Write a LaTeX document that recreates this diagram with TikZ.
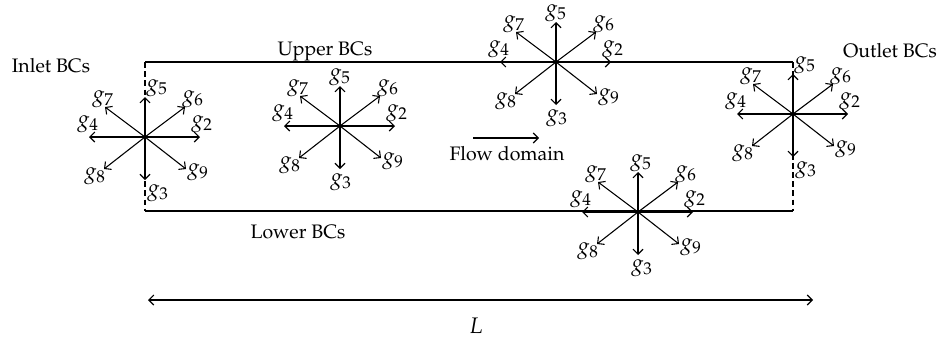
\documentclass[tikz,border=0pt]{standalone}
\usepackage[T1]{fontenc}
\usepackage{mathpazo}
\usetikzlibrary{calc,arrows.meta}

\tikzset{
    vel/.style={line width=0.65pt,-{Straight Barb[length=3pt,width=6pt]}},
    wall/.style={line width=0.65pt},
    openbc/.style={line width=0.65pt,dash pattern=on 3.5pt off 2pt},
    glabel/.style={inner sep=0pt,font=\fontsize{13.5pt}{16pt}\selectfont},
    bclabel/.style={inner sep=0pt,anchor=base}
}

\begin{document}
\begin{tikzpicture}[x=0.6pt,y=-0.6pt,font=\fontsize{11.7pt}{14pt}\selectfont]
        \useasboundingbox (0,0) rectangle (940,341);
        % flow domain
        \coordinate (in1) at (145,62);
        \coordinate (in2) at (145,211);
        \coordinate (out1) at (793,62);
        \coordinate (out2) at (793,211);
        \draw[wall] (in1) -- (out1);
        \draw[wall] (in2) -- (out2);
        \draw[openbc] (in1) -- (in2);
        \draw[openbc] (out1) -- (out2);
        \node[bclabel] (inlet) at (51,72) {Inlet BCs};
        \node[bclabel] (outlet) at (890,57) {Outlet BCs};
        \node[bclabel] (upper) at (325,55) {Upper BCs};
        \node[bclabel] (lower) at (298,238) {Lower BCs};
        \node[bclabel] (flow) at (507,160) {Flow domain};
        \coordinate (fa) at (473,138);
        \coordinate (fb) at (539,138);
        \draw[vel] (fa) -- (fb);
        % D2Q9 stars
        \foreach \s/\cx/\cy/\sh in {A/145/137/12,B/340/126/0,C/556/62/0,D/638/212/3,E/793/114/12} {
            \coordinate (\s1) at (\cx,\cy);
            \foreach \k/\dx/\dy/\lx/\ly/\m in {2/55/0/57/-13/0,3/0/43/1/56/1,4/-56/0/-57/-13/0,5/0/-40/0/-49/1,
                                              6/40/-30/48/-38/0,7/-40/-30/-42/-38/0,8/-41/32/-50/39/0,9/41/32/53/35/0} {
                \coordinate (\s\k) at ($(\s1)+(\dx,\dy)$);
                \draw[vel] (\s1) -- (\s\k);
                \node[glabel] (l\s\k) at ($(\s1)+(\lx+\m*\sh,\ly)$) {$g_{\k}$};
            }
        }
        % length
        \coordinate (dl) at (148,300);
        \coordinate (dr) at (813,300);
        \draw[line width=0.65pt,{Straight Barb[length=3pt,width=6pt]}-{Straight Barb[length=3pt,width=6pt]}] (dl) -- (dr);
        \node[glabel] (len) at (476,326) {$L$};
    \end{tikzpicture}
\end{document}
